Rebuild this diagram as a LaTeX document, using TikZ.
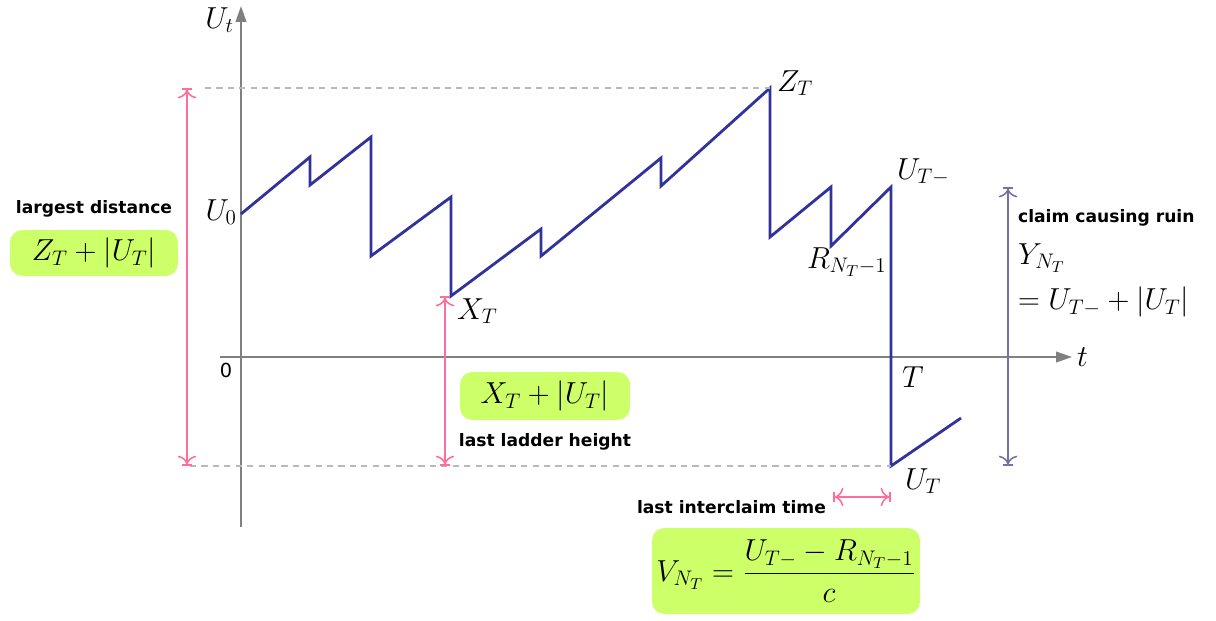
\documentclass[tikz,border=0pt]{standalone}
\usepackage{fontspec}
\setsansfont{DejaVu Sans}
\usepackage{amsmath}
\usepackage{tikz}
\usetikzlibrary{arrows.meta, positioning, calc}
\definecolor{mynavy}{RGB}{50,50,155}
\definecolor{mypink}{RGB}{255,110,155}
\definecolor{mylime}{RGB}{205,255,105}
\definecolor{myaxis}{RGB}{128,128,128}
\definecolor{mylilac}{RGB}{115,112,165}
\tikzset{
  axis/.style={-{Triangle[length=9pt,width=6pt]}, line width=1pt, color=myaxis},
  guide/.style={color=myaxis!55, line width=0.6pt, dash pattern=on 3.5pt off 3pt},
  surplus/.style={line width=1.6pt, color=mynavy, line join=miter},
  span/.style={{Bar[width=6pt]To[length=5pt]}-{To[length=5pt]Bar[width=6pt]},
    line width=0.9pt, color=mypink},
  lilacspan/.style={span, color=mylilac},
  mlabel/.style={inner sep=1pt, font=\fontsize{18}{21}\selectfont},
  tlabel/.style={inner sep=1pt, font=\sffamily\bfseries\fontsize{9.75}{12}\selectfont},
  limebox/.style={fill=mylime, rounded corners=7pt, inner sep=0pt,
    font=\fontsize{18}{21}\selectfont}
}
\begin{document}
\begin{tikzpicture}[x=0.02cm, y=-0.02cm]
  \useasboundingbox (0,0) rectangle (1216,620);

  % axes
  \coordinate (ybot) at (241,527);
  \coordinate (ytop) at (241,6);
  \coordinate (xleft) at (220,357);
  \coordinate (xright) at (1072,357);
  \draw [axis] (ybot) -- (ytop);
  \draw [axis] (xleft) -- (xright);
  \node [mlabel, anchor=east] (ut) at (236,20) {$U_t$};
  \node [mlabel, anchor=west] (tt) at (1075,357) {$t$};
  \node [inner sep=0pt, font=\sffamily\fontsize{11}{13}\selectfont] (zero) at (226,370) {0};

  % surplus path
  \coordinate (u0) at (241,214);
  \coordinate (a1) at (310,157);
  \coordinate (b1) at (310,185);
  \coordinate (a2) at (371,137);
  \coordinate (b2) at (371,256);
  \coordinate (a3) at (451,197);
  \coordinate (xt) at (451,296);
  \coordinate (a4) at (541,229);
  \coordinate (b4) at (541,256);
  \coordinate (a5) at (661,158);
  \coordinate (b5) at (661,186);
  \coordinate (zt) at (770,88);
  \coordinate (b6) at (770,237);
  \coordinate (a7) at (831,187);
  \coordinate (rn) at (831,246);
  \coordinate (utm) at (891,187);
  \coordinate (uT) at (891,466);
  \coordinate (uend) at (961,418);
  \draw [surplus] (u0) -- (a1) -- (b1) -- (a2) -- (b2) -- (a3) -- (xt) -- (a4)
    -- (b4) -- (a5) -- (b5) -- (zt) -- (b6) -- (a7) -- (rn) -- (utm) -- (uT) -- (uend);

  % guide lines
  \coordinate (gtop) at (205,88);
  \coordinate (gbot) at (190,466);
  \draw [guide] (gtop) -- (zt);
  \draw [guide] (gbot) -- (uT);

  % point labels
  \node [mlabel, anchor=east] (lu0) at (239,212) {$U_0$};
  \node [mlabel, anchor=west] (lxt) at (455,311) {$X_T$};
  \node [mlabel, anchor=west] (lzt) at (775,83) {$Z_T$};
  \node [mlabel, anchor=west] (lutm) at (895,172) {$U_{T-}$};
  \node [mlabel, anchor=west] (lrn) at (805,262) {$R_{N_T-1}$};
  \node [mlabel, anchor=west] (lT) at (900,377) {$T$};
  \node [mlabel, anchor=west] (luT) at (903,481) {$U_T$};

  % largest distance
  \coordinate (ldtop) at (187,88);
  \coordinate (ldbot) at (187,466);
  \draw [span] (ldbot) -- (ldtop);
  \node [limebox, minimum width=3.36cm, minimum height=0.92cm] (zbox) at (94,253) {$Z_T+|U_T|$};
  \node [tlabel, above=6pt of zbox] (ldist) {largest distance};

  % last ladder height
  \coordinate (lhtop) at (445,296);
  \coordinate (lhbot) at (445,466);
  \draw [span] (lhbot) -- (lhtop);
  \node [limebox, minimum width=3.4cm, minimum height=0.96cm] (xbox) at (545,396) {$X_T+|U_T|$};
  \node [tlabel, below=6pt of xbox] (ladder) {last ladder height};

  % claim causing ruin
  \coordinate (crtop) at (1008,187);
  \coordinate (crbot) at (1008,466);
  \draw [lilacspan] (crbot) -- (crtop);
  \node [tlabel, anchor=west] (claim) at (1016,218) {claim causing ruin};
  \node [mlabel, anchor=west] (ynt) at (1016,258) {$Y_{N_T}$};
  \node [mlabel, anchor=west] (yeq) at (1016,302) {$=U_{T-}+|U_T|$};

  % last interclaim time
  \coordinate (itl) at (833,497);
  \coordinate (itr) at (891,497);
  \draw [span] (itl) -- (itr);
  \node [tlabel, anchor=east] (inter) at (828,507) {last interclaim time};
  \node [limebox, minimum width=5.36cm, minimum height=1.72cm] (vbox) at (786,571)
    {$\displaystyle V_{N_T}=\frac{U_{T-}-R_{N_T-1}}{c}$};
\end{tikzpicture}
\end{document}
